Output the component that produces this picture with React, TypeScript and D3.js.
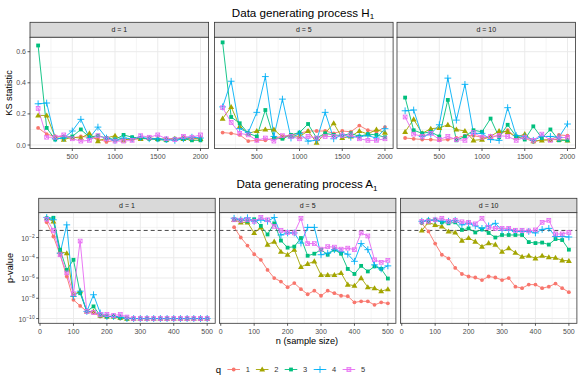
import React from 'react';
import * as d3 from 'd3';

// ---------- data ----------
const qLevels = ['1', '2', '3', '4', '5'];
const qColors = ['#F8766D', '#A3A500', '#00BF7D', '#00B0F6', '#E76BF3'];
const dLabels = ['d = 1', 'd = 5', 'd = 10'];

// Top row: KS statistic vs n
const nKS = [100, 200, 300, 400, 500, 600, 700, 800, 900, 1000, 1100, 1200, 1300, 1400, 1500, 1600, 1700, 1800, 1900, 2000];

const ksD1Q1 = [0.11, 0.07, 0.055, 0.055, 0.045, 0.055, 0.05, 0.04, 0.02, 0.03, 0.035, 0.035, 0.04, 0.04, 0.035, 0.04, 0.04, 0.05, 0.04, 0.045];
const ksD1Q2 = [0.19, 0.19, 0.05, 0.035, 0.05, 0.045, 0.075, 0.025, 0.045, 0.06, 0.03, 0.045, 0.04, 0.045, 0.04, 0.035, 0.04, 0.04, 0.04, 0.04];
const ksD1Q3 = [0.64, 0.11, 0.035, 0.05, 0.055, 0.1, 0.05, 0.06, 0.045, 0.035, 0.065, 0.05, 0.045, 0.04, 0.035, 0.03, 0.04, 0.04, 0.03, 0.03];
const ksD1Q4 = [0.265, 0.27, 0.04, 0.045, 0.09, 0.165, 0.045, 0.115, 0.045, 0.03, 0.045, 0.04, 0.05, 0.04, 0.04, 0.035, 0.03, 0.04, 0.05, 0.045];
const ksD1Q5 = [0.235, 0.05, 0.05, 0.065, 0.04, 0.025, 0.03, 0.06, 0.04, 0.025, 0.025, 0.03, 0.06, 0.05, 0.065, 0.04, 0.035, 0.055, 0.05, 0.065];

const ksD5Q1 = [0.08, 0.075, 0.065, 0.025, 0.03, 0.03, 0.045, 0.055, 0.065, 0.075, 0.09, 0.09, 0.09, 0.075, 0.09, 0.085, 0.125, 0.095, 0.085, 0.115];
const ksD5Q2 = [0.17, 0.245, 0.12, 0.075, 0.09, 0.1, 0.1, 0.05, 0.06, 0.055, 0.09, 0.015, 0.075, 0.14, 0.045, 0.055, 0.09, 0.07, 0.1, 0.08];
const ksD5Q3 = [0.66, 0.18, 0.14, 0.075, 0.055, 0.225, 0.045, 0.04, 0.065, 0.08, 0.135, 0.045, 0.075, 0.065, 0.06, 0.075, 0.055, 0.07, 0.065, 0.05];
const ksD5Q4 = [0.245, 0.41, 0.105, 0.08, 0.21, 0.44, 0.055, 0.295, 0.045, 0.075, 0.025, 0.03, 0.21, 0.04, 0.065, 0.05, 0.055, 0.06, 0.045, 0.105];
const ksD5Q5 = [0.24, 0.145, 0.075, 0.065, 0.03, 0.045, 0.025, 0.06, 0.055, 0.04, 0.055, 0.045, 0.055, 0.055, 0.06, 0.065, 0.04, 0.03, 0.03, 0.04];

const ksD10Q1 = [0.045, 0.04, 0.035, 0.035, 0.03, 0.035, 0.045, 0.06, 0.06, 0.05, 0.045, 0.065, 0.095, 0.05, 0.045, 0.02, 0.035, 0.03, 0.065, 0.06];
const ksD10Q2 = [0.085, 0.165, 0.075, 0.105, 0.11, 0.13, 0.1, 0.09, 0.03, 0.035, 0.055, 0.09, 0.085, 0.05, 0.07, 0.025, 0.03, 0.035, 0.035, 0.03];
const ksD10Q3 = [0.305, 0.095, 0.075, 0.085, 0.055, 0.29, 0.03, 0.055, 0.095, 0.085, 0.17, 0.05, 0.13, 0.055, 0.035, 0.12, 0.045, 0.1, 0.03, 0.03];
const ksD10Q4 = [0.22, 0.225, 0.055, 0.07, 0.13, 0.43, 0.16, 0.39, 0.075, 0.075, 0.035, 0.03, 0.24, 0.06, 0.055, 0.03, 0.055, 0.055, 0.05, 0.135];
const ksD10Q5 = [0.18, 0.07, 0.055, 0.075, 0.035, 0.055, 0.035, 0.03, 0.08, 0.05, 0.055, 0.06, 0.055, 0.03, 0.05, 0.03, 0.07, 0.03, 0.045, 0.05];

// Bottom row: log10 p-value vs n
const nPD1 = [20, 40, 60, 80, 100, 120, 140, 160, 180, 200, 220, 240, 260, 280, 300, 320, 340, 360, 380, 400, 420, 440, 460, 480, 500];
const nPD5 = [40, 60, 80, 100, 120, 140, 160, 180, 200, 220, 240, 260, 280, 300, 320, 340, 360, 380, 400, 420, 440, 460, 480, 500];
const nPD10 = [60, 80, 100, 120, 140, 160, 180, 200, 220, 240, 260, 280, 300, 320, 340, 360, 380, 400, 420, 440, 460, 480, 500];

const logPD1Q1 = [-0.5, -1.9, -3.7, -5.85, -8.15, -8.75, -9.3, -9.45, -9.8, -9.85, -9.8, -10, -10, -10, -10, -10, -10, -10, -10, -10, -10, -10, -10, -10, -10];
const logPD1Q2 = [-0.1, -0.4, -3.4, -3.55, -7.65, -7.3, -9.3, -9.3, -9.7, -9.8, -9.8, -9.9, -10, -10, -10, -10, -10, -10, -10, -10, -10, -10, -10, -10, -10];
const logPD1Q3 = [-0.1, -0.05, -3.2, -5.2, -4.2, -7.5, -9.3, -8.8, -9.7, -9.8, -9.8, -9.9, -10, -10, -10, -10, -10, -10, -10, -10, -10, -10, -10, -10, -10];
const logPD1Q4 = [-0.02, -0.25, -3.55, -0.75, -7.8, -7.3, -9.3, -7.65, -9.45, -9.8, -9.8, -9.85, -10, -10, -10, -10, -10, -10, -10, -10, -10, -10, -10, -10, -10];
const logPD1Q5 = [-0.2, -1.3, -3.7, -5.5, -7.55, -2.35, -9.3, -9.4, -9.6, -9.6, -9.7, -9.6, -9.85, -10, -10, -10, -10, -10, -10, -10, -10, -10, -10, -10, -10];

const logPD5Q1 = [-0.98, -2.0, -2.8, -3.65, -4.2, -5.2, -6.0, -6.35, -6.9, -6.5, -7.1, -7.6, -7.25, -7.75, -7.25, -7.5, -7.75, -7.8, -8.4, -8.3, -8.3, -8.65, -8.4, -8.5];
const logPD5Q2 = [-0.25, -0.5, -0.5, -1.55, -1.0, -2.7, -2.4, -3.4, -3.7, -3.2, -4.9, -4.6, -4.35, -5.7, -5.7, -5.7, -5.5, -6.65, -6.75, -6.0, -6.9, -7.0, -7.3, -7.1];
const logPD5Q3 = [-0.2, -0.25, -0.4, -0.2, -0.85, -1.7, -0.6, -2.3, -3.0, -2.9, -2.05, -3.8, -3.6, -3.2, -3.7, -3.2, -3.6, -5.1, -5.6, -4.8, -5.35, -4.85, -5.1, -6.05];
const logPD5Q4 = [-0.1, -0.25, -0.05, -0.4, -0.25, -0.4, -0.02, -1.75, -1.55, -1.55, -2.55, -1.0, -1.0, -3.7, -3.55, -3.2, -3.4, -3.65, -4.35, -2.6, -3.2, -4.7, -5.1, -4.8];
const logPD5Q5 = [-0.25, -0.3, -0.25, -0.4, -0.02, -0.25, -0.9, -1.3, -1.5, -1.55, -0.1, -2.6, -2.6, -3.15, -2.9, -2.95, -3.15, -3.05, -3.2, -1.55, -1.85, -4.2, -4.45, -4.25];

const logPD10Q1 = [-0.6, -1.4, -2.6, -3.7, -4.05, -5.0, -5.6, -5.85, -5.95, -6.2, -5.85, -5.95, -6.2, -6.0, -6.85, -7.0, -6.65, -6.65, -7.0, -6.85, -6.55, -7.0, -7.4];
const logPD10Q2 = [-1.3, -0.5, -0.75, -0.9, -1.4, -1.5, -2.3, -2.05, -2.4, -2.9, -2.55, -2.7, -3.4, -3.05, -3.5, -3.9, -3.8, -4.05, -3.8, -3.95, -4.0, -4.25, -4.3];
const logPD10Q3 = [-0.5, -0.3, -0.25, -0.5, -0.6, -0.5, -1.25, -1.1, -1.5, -1.2, -1.55, -2.0, -1.75, -1.75, -1.75, -1.75, -2.45, -2.55, -2.5, -2.7, -2.15, -2.25, -3.2];
const logPD10Q4 = [-0.4, -0.3, -0.3, -0.4, -0.4, -0.3, -0.75, -0.6, -0.85, -1.1, -0.85, -0.6, -1.3, -1.25, -1.4, -1.4, -1.4, -1.55, -1.2, -1.1, -1.9, -1.9, -1.95];
const logPD10Q5 = [-0.4, -0.4, -0.25, -0.1, -0.4, -0.3, -0.45, -0.5, -0.65, -0.1, -1.0, -1.1, -1.1, -1.1, -1.3, -1.3, -1.35, -1.25, -0.5, -0.3, -1.65, -1.65, -1.5];

const alphaLevel = 0.05;
const ksTicks = [0, 0.2, 0.4, 0.6];
const ksMinor = [0.1, 0.3, 0.5];
const nKSTicks = [500, 1000, 1500, 2000];
const nKSMinor = [250, 750, 1250, 1750];
const pTicksExp = [-10, -8, -6, -4, -2];
const pMinorExp = [-9, -7, -5, -3, -1, 0];
const nPTicks = [0, 100, 200, 300, 400, 500];
const nPMinor = [50, 150, 250, 350, 450];

const ksData = [
  [ksD1Q1, ksD1Q2, ksD1Q3, ksD1Q4, ksD1Q5],
  [ksD5Q1, ksD5Q2, ksD5Q3, ksD5Q4, ksD5Q5],
  [ksD10Q1, ksD10Q2, ksD10Q3, ksD10Q4, ksD10Q5],
];
const pX = [nPD1, nPD5, nPD10];
const pData = [
  [logPD1Q1, logPD1Q2, logPD1Q3, logPD1Q4, logPD1Q5],
  [logPD5Q1, logPD5Q2, logPD5Q3, logPD5Q4, logPD5Q5],
  [logPD10Q1, logPD10Q2, logPD10Q3, logPD10Q4, logPD10Q5],
];

// ---------- style ----------
const FONT = '"Liberation Sans", Arial, Helvetica, sans-serif';
const GRID = '#EBEBEB';
const BORDER = '#333333';
const AXIS_TXT = '#4D4D4D';

function Marker({ q, x, y, color }: { q: number; x: number; y: number; color: string }) {
  if (q === 0) return <circle cx={x} cy={y} r={1.9} fill={color} />;
  if (q === 1) {
    const p = d3.symbol().type(d3.symbolTriangle).size(15)();
    return <path d={p || ''} transform={`translate(${x},${y + 0.4})`} fill={color} />;
  }
  if (q === 2) return <rect x={x - 1.9} y={y - 1.9} width={3.8} height={3.8} fill={color} />;
  if (q === 3) {
    const s = 3.4;
    return <path d={`M${x - s},${y}H${x + s}M${x},${y - s}V${y + s}`} stroke={color} strokeWidth={0.9} fill="none" />;
  }
  const s = 1.9;
  return (
    <g stroke={color} strokeWidth={0.8} fill="none">
      <rect x={x - s} y={y - s} width={2 * s} height={2 * s} />
      <path d={`M${x - s},${y - s}L${x + s},${y + s}M${x - s},${y + s}L${x + s},${y - s}`} />
    </g>
  );
}

type PanelProps = {
  x0: number; y0: number; w: number; h: number; stripH: number;
  label: string;
  xScale: d3.ScaleLinear<number, number>;
  yScale: d3.ScaleLinear<number, number>;
  xTicks: number[]; xMinor: number[]; yTicks: number[]; yMinor: number[];
  xs: number[][]; ys: number[][];
  showY: boolean;
  yLabel: (v: number, x: number, y: number) => React.ReactNode;
  hline?: number;
};

function Panel(p: PanelProps) {
  const { x0, y0, w, h, stripH, xScale, yScale } = p;
  const line = d3.line<[number, number]>().x(d => xScale(d[0])).y(d => yScale(d[1]));
  return (
    <g>
      <rect x={x0} y={y0 - stripH} width={w} height={stripH} fill="#D9D9D9" stroke={BORDER} strokeWidth={0.8} />
      <text x={x0 + w / 2} y={y0 - stripH / 2 + 2.5} textAnchor="middle" fontSize={7} fill="#1A1A1A" fontFamily={FONT}>{p.label}</text>
      <rect x={x0} y={y0} width={w} height={h} fill="white" />
      {p.xMinor.map(v => <line key={'xm' + v} x1={xScale(v)} x2={xScale(v)} y1={y0} y2={y0 + h} stroke={GRID} strokeWidth={0.5} />)}
      {p.yMinor.map(v => <line key={'ym' + v} y1={yScale(v)} y2={yScale(v)} x1={x0} x2={x0 + w} stroke={GRID} strokeWidth={0.5} />)}
      {p.xTicks.map(v => <line key={'xg' + v} x1={xScale(v)} x2={xScale(v)} y1={y0} y2={y0 + h} stroke={GRID} strokeWidth={1} />)}
      {p.yTicks.map(v => <line key={'yg' + v} y1={yScale(v)} y2={yScale(v)} x1={x0} x2={x0 + w} stroke={GRID} strokeWidth={1} />)}
      {p.hline !== undefined && (
        <line x1={x0} x2={x0 + w} y1={yScale(p.hline)} y2={yScale(p.hline)} stroke="#333" strokeWidth={0.9} strokeDasharray="4,3" />
      )}
      {p.ys.map((ys, qi) => (
        <path key={'l' + qi} d={line(ys.map((v, i) => [p.xs[qi][i], v] as [number, number])) || ''} fill="none" stroke={qColors[qi]} strokeWidth={0.9} />
      ))}
      {p.ys.map((ys, qi) => (
        <g key={'p' + qi}>
          {ys.map((v, i) => <Marker key={i} q={qi} x={xScale(p.xs[qi][i])} y={yScale(v)} color={qColors[qi]} />)}
        </g>
      ))}
      <rect x={x0} y={y0} width={w} height={h} fill="none" stroke={BORDER} strokeWidth={0.8} />
      {p.xTicks.map(v => (
        <g key={'xt' + v}>
          <line x1={xScale(v)} x2={xScale(v)} y1={y0 + h} y2={y0 + h + 2.5} stroke={BORDER} strokeWidth={0.8} />
          <text x={xScale(v)} y={y0 + h + 10.2} textAnchor="middle" fontSize={7} fill={AXIS_TXT} fontFamily={FONT}>{v}</text>
        </g>
      ))}
      {p.showY && p.yTicks.map(v => (
        <g key={'yt' + v}>
          <line x1={x0 - 2.5} x2={x0} y1={yScale(v)} y2={yScale(v)} stroke={BORDER} strokeWidth={0.8} />
          {p.yLabel(v, x0 - 4, yScale(v))}
        </g>
      ))}
    </g>
  );
}

export default function App() {
  const topX = [30, 214.5, 397];
  const topW = 178.6;
  const topY = 37.3, topH = 111.2, topStrip = 15;
  const botX = [38.7, 219.4, 400.4];
  const botW = 176.5;
  const botY = 212.7, botH = 110.6, botStrip = 14.4;

  const ksFmt = d3.format('.1f');

  return (
    <div style={{ position: 'absolute', left: 0, top: 0 }}>
      <svg width={580} height={386} style={{ display: 'block', background: 'white' }} fontFamily={FONT}>
        <rect width={580} height={386} fill="white" />
        <text x={303} y={16.5} textAnchor="middle" fontSize={11.6} fill="black">
          Data generating process H<tspan fontSize={8} dy={2.5}>1</tspan>
        </text>
        <text x={307} y={188.3} textAnchor="middle" fontSize={11.6} fill="black">
          Data generating process A<tspan fontSize={8} dy={2.5}>1</tspan>
        </text>

        {dLabels.map((lab, di) => {
          const xScale = d3.scaleLinear().domain([5, 2095]).range([topX[di], topX[di] + topW]);
          const yScale = d3.scaleLinear().domain([-0.0225, 0.6926]).range([topY + topH, topY]);
          return (
            <Panel key={'t' + di} x0={topX[di]} y0={topY} w={topW} h={topH} stripH={topStrip} label={lab}
              xScale={xScale} yScale={yScale} xTicks={nKSTicks} xMinor={nKSMinor} yTicks={ksTicks} yMinor={ksMinor}
              xs={qLevels.map(() => nKS)} ys={ksData[di]} showY={di === 0}
              yLabel={(v, x, y) => <text x={x} y={y + 2.5} textAnchor="end" fontSize={7} fill={AXIS_TXT} fontFamily={FONT}>{ksFmt(v)}</text>}
            />
          );
        })}
        <text transform={`translate(12,93) rotate(-90)`} textAnchor="middle" fontSize={9.2} fill="black">KS statistic</text>

        {dLabels.map((lab, di) => {
          const xScale = d3.scaleLinear().domain([-4, 524]).range([botX[di], botX[di] + botW]);
          const yScale = d3.scaleLinear().domain([-10.47, 0.45]).range([botY + botH, botY]);
          return (
            <Panel key={'b' + di} x0={botX[di]} y0={botY} w={botW} h={botH} stripH={botStrip} label={lab}
              xScale={xScale} yScale={yScale} xTicks={nPTicks} xMinor={nPMinor} yTicks={pTicksExp} yMinor={pMinorExp}
              xs={qLevels.map(() => pX[di])} ys={pData[di]} showY={di === 0}
              hline={Math.log10(alphaLevel)}
              yLabel={(v, x, y) => (
                <text x={x} y={y + 3} textAnchor="end" fontSize={7} fill={AXIS_TXT} fontFamily={FONT}>
                  10<tspan fontSize={5} dy={-3}>{'\u2212' + Math.abs(v)}</tspan>
                </text>
              )}
            />
          );
        })}
        <text transform={`translate(12.5,268) rotate(-90)`} textAnchor="middle" fontSize={9.2} fill="black">p-value</text>
        <text x={307} y={343.5} textAnchor="middle" fontSize={9.2} fill="black">n (sample size)</text>

        <text x={218.3} y={372.5} textAnchor="middle" fontSize={9.6} fill="black">q</text>
        {qLevels.map((q, qi) => {
          const cx = [233.7, 262.2, 291, 320, 348.9][qi];
          const cy = 369.5;
          return (
            <g key={'lg' + q}>
              <line x1={cx - 6.3} x2={cx + 6.3} y1={cy} y2={cy} stroke={qColors[qi]} strokeWidth={0.9} />
              <Marker q={qi} x={cx} y={cy} color={qColors[qi]} />
              <text x={cx + 12} y={cy + 2.6} fontSize={7.5} fill="#333" fontFamily={FONT}>{q}</text>
            </g>
          );
        })}
      </svg>
    </div>
  );
}
